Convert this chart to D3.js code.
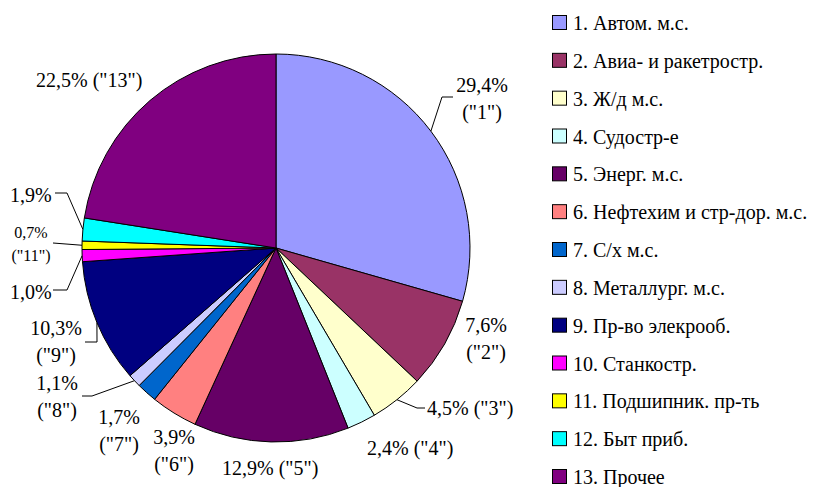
<!DOCTYPE html>
<html><head><meta charset="utf-8">
<script src="https://cdn.jsdelivr.net/npm/d3@7"></script>
<style>html,body{margin:0;padding:0;background:#fff;}#wrap{position:relative;width:835px;height:487px;}svg{display:block;position:absolute;left:0;top:0;}
.lg{position:absolute;font-family:'Liberation Serif','Times New Roman',serif;font-size:20px;line-height:22px;white-space:nowrap;color:#000;}</style>
</head><body>
<div id="wrap"><svg id="chart" width="835" height="487"></svg></div>
<script>
const categories = ["1. Автом. м.с.","2. Авиа- и ракетростр.","3. Ж/д м.с.","4. Судостр-е","5. Энерг. м.с.","6. Нефтехим и стр-дор. м.с.","7. С/х м.с.","8. Металлург. м.с.","9. Пр-во элекрооб.","10. Станкостр.","11. Подшипник. пр-ть","12. Быт приб.","13. Прочее"];
const values = [29.4,7.6,4.5,2.4,12.9,3.9,1.7,1.1,10.3,1.0,0.7,1.9,22.5];
const valueLabels = ["29,4%","7,6%","4,5%","2,4%","12,9%","3,9%","1,7%","1,1%","10,3%","1,0%","0,7%","1,9%","22,5%"];
const codeLabels = ["(\"1\")","(\"2\")","(\"3\")","(\"4\")","(\"5\")","(\"6\")","(\"7\")","(\"8\")","(\"9\")","(\"10\")","(\"11\")","(\"12\")","(\"13\")"];
const colors = ["#9999FF","#993366","#FFFFCC","#CCFFFF","#660066","#FF8080","#0066CC","#CCCCFF","#000080","#FF00FF","#FFFF00","#00FFFF","#800080"];

// label layout (text placement, leader elbows)
const layout = [
  {lines:2, x:482, y:85, anchor:"middle", leader:[[442,97],[453,97]]},
  {lines:2, x:486, y:325, anchor:"middle"},
  {lines:1, x:427, y:408, anchor:"start", leader:[[417,408],[425,408]]},
  {lines:1, x:367, y:448, anchor:"start"},
  {lines:1, x:222, y:468, anchor:"start"},
  {lines:2, x:174, y:437, anchor:"middle"},
  {lines:2, x:119, y:417, anchor:"middle"},
  {lines:2, x:57, y:383, anchor:"middle", leader:[[92,396],[82,396]]},
  {lines:2, x:56, y:328, anchor:"middle", leader:[[97,342],[85,342]]},
  {lines:0, x:10, y:292, anchor:"start", leader:[[67,290],[53,290]]},
  {lines:2, x:31, y:232, anchor:"middle", leader:[[53,243]], small:true},
  {lines:0, x:10, y:195, anchor:"start", leader:[[67,193],[55,193]]},
  {lines:1, x:36, y:80, anchor:"start"}
];

const FONT = "'Liberation Serif', 'Times New Roman', serif";
const svg = d3.select("#chart");
const cx = 276, cy = 248, R = 194;
const g = svg.append("g").attr("transform", `translate(${cx},${cy})`);
const pie = d3.pie().sort(null).value(d => d);
const arcs = pie(values);
const arc = d3.arc().innerRadius(0).outerRadius(R);

g.selectAll("path.slice").data(arcs).join("path")
  .attr("class","slice")
  .attr("d", arc)
  .attr("fill", (d,i) => colors[i])
  .attr("stroke", "#000").attr("stroke-width", 1).attr("stroke-linejoin","round");

const fs = 20;
arcs.forEach((a, i) => {
  const L = layout[i];
  const mid = (a.startAngle + a.endAngle) / 2;
  if (L.leader) {
    const p0 = [cx + R*Math.sin(mid), cy - R*Math.cos(mid)];
    const pts = [p0].concat(L.leader);
    svg.append("path").attr("d", d3.line()(pts)).attr("fill","none").attr("stroke","#000").attr("stroke-width",1);
  }
  const t = svg.append("text").style("font-family", FONT).style("font-size", (L.small ? 16 : fs) + "px")
    .attr("text-anchor", L.anchor).attr("fill","#000");
  if (L.lines === 2) {
    t.append("tspan").attr("x", L.x).attr("y", L.y).attr("dy","0.35em").text(valueLabels[i]);
    t.append("tspan").attr("x", L.x).attr("y", L.y + (i===10 ? 23 : 27)).attr("dy","0.35em").text(codeLabels[i]);
  } else if (L.lines === 1) {
    t.attr("x", L.x).attr("y", L.y).attr("dy","0.35em").text(valueLabels[i] + " " + codeLabels[i]);
  } else {
    t.attr("x", L.x).attr("y", L.y).attr("dy","0.35em").text(valueLabels[i]);
  }
});

const y = d3.scalePoint().domain(categories).range([23, 477]);
categories.forEach((c, i) => {
  svg.append("rect").attr("x", 552.5).attr("y", y(c) - 7.5).attr("width", 14).attr("height", 14)
    .attr("fill", colors[i]).attr("stroke","#000").attr("stroke-width",1);
});
d3.select("#wrap").selectAll("div.lg").data(categories).join("div")
  .attr("class","lg")
  .style("left", "573px")
  .style("top", d => (y(d) - 11) + "px")
  .text(d => d);
</script>
</body></html>
